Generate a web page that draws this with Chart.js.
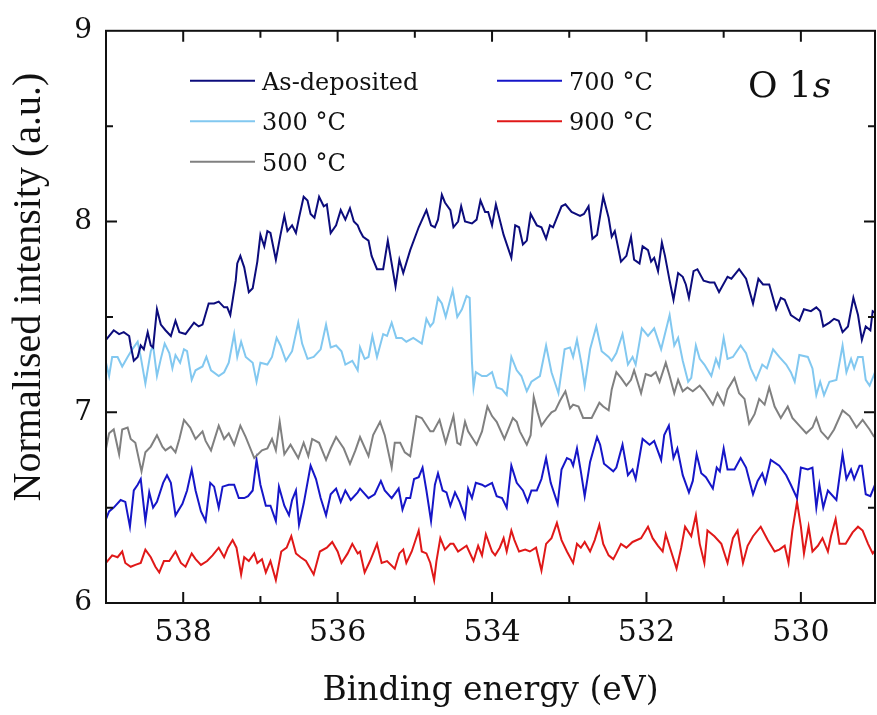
<!DOCTYPE html>
<html>
<head>
<meta charset="utf-8">
<title>O 1s XPS</title>
<script src="https://cdn.jsdelivr.net/npm/chart.js@4.4.1/dist/chart.umd.min.js"></script>
<style>
  html, body { margin: 0; padding: 0; background: #ffffff; }
  #wrap { width: 877px; height: 715px; }
</style>
</head>
<body>
<div id="wrap"><canvas id="xpsChart" width="877" height="715"></canvas></div>
<script>
// Series names and colours
const seriesNames = ['As-deposited', '300 °C', '500 °C', '700 °C', '900 °C'];
const seriesColors = ['#0c0c7c', '#82c8f0', '#808080', '#1616c8', '#e01818'];

// Axis ticks
const xTickLabels = [538, 536, 534, 532, 530];
const xMinorTicks = [537, 535, 533, 531, 529];
const yTickLabels = [6, 7, 8, 9];
const yMinorTicks = [6.5, 7.5, 8.5];

// As-deposited
const asDepE = [539.00,538.90,538.83,538.77,538.70,538.68,538.64,538.59,538.55,538.51,538.46,538.42,538.39,538.34,538.29,538.23,538.16,538.10,538.05,537.97,537.86,537.80,537.75,537.67,537.60,537.54,537.47,537.43,537.39,537.32,537.30,537.26,537.21,537.15,537.10,537.04,537.00,536.95,536.91,536.87,536.80,536.74,536.69,536.65,536.59,536.54,536.50,536.44,536.39,536.35,536.30,536.24,536.18,536.14,536.09,536.02,535.96,535.90,535.84,535.79,535.74,
  535.71,535.67,535.60,535.56,535.49,535.41,535.35,535.30,535.25,535.20,535.15,535.06,534.95,534.85,534.79,534.74,534.70,534.65,534.61,534.54,534.50,534.44,534.40,534.35,534.26,534.20,534.15,534.09,534.05,534.00,533.95,533.85,533.75,533.70,533.65,533.60,533.55,533.50,533.42,533.36,533.30,533.25,533.21,533.10,533.05,532.97,532.86,532.81,532.75,532.70,532.64,532.56,532.49,532.45,532.41,
  532.33,532.26,532.20,532.16,532.09,532.05,531.98,531.94,531.90,531.85,531.80,531.76,531.70,531.65,531.59,531.53,531.49,531.45,531.39,531.34,531.26,531.18,531.12,531.06,530.95,530.90,530.80,530.71,530.62,530.55,530.49,530.41,530.32,530.26,530.21,530.13,530.02,529.96,529.87,529.80,529.75,529.71,529.63,529.57,529.51,529.46,529.39,529.32,529.26,529.21,529.16,529.10,529.07,529.03];
const asDepI = [7.38,7.43,7.41,7.42,7.40,7.35,7.27,7.29,7.35,7.33,7.42,7.35,7.34,7.54,7.46,7.43,7.40,7.48,7.42,7.41,7.47,7.45,7.46,7.57,7.57,7.58,7.55,7.55,7.51,7.69,7.78,7.82,7.76,7.63,7.65,7.79,7.93,7.87,7.95,7.94,7.80,7.93,8.03,7.95,7.98,7.94,8.02,8.13,8.11,8.04,8.02,8.13,8.08,8.09,7.94,7.98,8.06,8.01,8.07,8.00,7.98,
  7.95,7.92,7.90,7.82,7.75,7.75,7.90,7.78,7.66,7.80,7.73,7.85,7.97,8.06,7.98,7.97,8.01,8.14,8.10,8.06,7.97,8.00,8.08,8.00,7.99,8.01,8.11,8.05,8.05,7.98,8.09,7.93,7.81,7.98,7.97,7.88,7.90,8.04,7.98,7.97,7.91,7.98,7.97,8.08,8.09,8.05,8.03,8.04,8.08,7.91,7.93,8.13,8.02,7.92,7.95,
  7.79,7.82,7.92,7.80,7.78,7.87,7.85,7.79,7.81,7.74,7.89,7.82,7.69,7.59,7.73,7.71,7.67,7.60,7.74,7.75,7.69,7.68,7.68,7.63,7.71,7.70,7.75,7.70,7.57,7.70,7.67,7.67,7.54,7.60,7.59,7.51,7.48,7.54,7.53,7.55,7.53,7.45,7.47,7.49,7.48,7.42,7.45,7.60,7.51,7.38,7.45,7.43,7.53,7.52];

// 300 °C
const t300E = [539.00,538.96,538.92,538.85,538.79,538.72,538.66,538.59,538.55,538.49,538.42,538.39,538.34,538.29,538.24,538.18,538.14,538.10,538.04,537.99,537.95,537.89,537.84,537.75,537.70,537.64,537.54,537.47,537.41,537.34,537.30,537.25,537.19,537.10,537.05,537.00,536.91,536.85,536.79,536.74,536.67,536.59,536.51,536.46,536.39,536.31,536.22,536.15,536.09,536.02,535.95,535.90,535.81,535.74,
  535.71,535.65,535.60,535.55,535.49,535.41,535.36,535.30,535.24,535.17,535.11,535.02,534.91,534.85,534.80,534.76,534.70,534.65,534.60,534.51,534.45,534.39,534.33,534.29,534.26,534.24,534.21,534.13,534.07,534.00,533.94,533.87,533.81,533.75,533.68,533.62,533.55,533.49,533.38,533.30,533.23,533.14,533.06,532.99,532.95,532.90,532.84,532.80,532.73,532.65,532.58,532.49,532.45,532.39,
  532.31,532.24,532.18,532.14,532.06,531.98,531.90,531.81,531.70,531.64,531.59,531.53,531.46,531.42,531.36,531.31,531.25,531.16,531.10,531.06,531.00,530.95,530.88,530.78,530.71,530.65,530.58,530.50,530.44,530.36,530.28,530.19,530.13,530.08,530.02,529.91,529.85,529.80,529.75,529.70,529.63,529.54,529.46,529.41,529.35,529.31,529.26,529.20,529.16,529.11,529.06,529.03];
const t300I = [7.26,7.19,7.29,7.29,7.24,7.29,7.33,7.37,7.29,7.15,7.32,7.35,7.19,7.28,7.36,7.31,7.23,7.30,7.26,7.33,7.32,7.17,7.22,7.24,7.29,7.22,7.19,7.21,7.26,7.41,7.29,7.37,7.29,7.26,7.16,7.26,7.25,7.29,7.39,7.35,7.27,7.32,7.47,7.36,7.28,7.29,7.33,7.46,7.34,7.35,7.32,7.25,7.27,7.22,
  7.34,7.28,7.29,7.40,7.29,7.41,7.40,7.47,7.39,7.39,7.37,7.39,7.36,7.49,7.45,7.47,7.60,7.57,7.50,7.64,7.50,7.54,7.61,7.60,7.26,7.13,7.21,7.19,7.19,7.21,7.13,7.12,7.09,7.29,7.22,7.19,7.11,7.16,7.19,7.35,7.21,7.10,7.33,7.34,7.29,7.38,7.25,7.14,7.33,7.45,7.32,7.29,7.27,7.31,
  7.41,7.25,7.29,7.25,7.44,7.40,7.44,7.33,7.51,7.35,7.39,7.27,7.16,7.18,7.35,7.28,7.25,7.19,7.28,7.24,7.39,7.28,7.29,7.35,7.31,7.23,7.17,7.25,7.23,7.33,7.29,7.25,7.21,7.16,7.30,7.29,7.23,7.09,7.16,7.09,7.16,7.17,7.35,7.21,7.28,7.23,7.29,7.29,7.17,7.14,7.19,7.22];

// 500 °C
const t500E = [539.00,538.96,538.90,538.83,538.79,538.72,538.68,538.62,538.54,538.49,538.42,538.34,538.27,538.23,538.16,538.10,538.05,537.99,537.91,537.84,537.75,537.71,537.64,537.54,537.47,537.41,537.34,537.26,537.19,537.08,536.98,536.91,536.85,536.80,536.75,536.69,536.61,536.51,536.44,536.38,536.33,536.24,536.15,536.09,536.02,535.92,535.84,535.77,
  535.71,535.60,535.54,535.45,535.39,535.30,535.26,535.19,535.13,535.06,534.98,534.91,534.80,534.76,534.68,534.60,534.50,534.45,534.41,534.35,534.31,534.20,534.13,534.06,534.00,533.94,533.84,533.79,533.73,533.68,533.64,533.55,533.50,533.46,533.41,533.36,533.29,533.23,533.18,533.12,533.05,532.99,532.95,532.88,532.82,532.75,532.71,532.61,532.56,532.49,532.45,532.39,
  532.33,532.26,532.20,532.16,532.07,532.01,531.94,531.88,531.83,531.75,531.70,531.64,531.59,531.53,531.47,531.40,531.31,531.25,531.14,531.08,531.00,530.95,530.86,530.80,530.73,530.67,530.60,530.54,530.47,530.41,530.34,530.26,530.17,530.11,530.02,529.93,529.85,529.80,529.74,529.65,529.57,529.46,529.37,529.28,529.20,529.11,529.05];
const t500I = [6.81,6.89,6.91,6.78,6.91,6.92,6.86,6.84,6.69,6.79,6.82,6.88,6.82,6.80,6.82,6.79,6.86,6.96,6.92,6.86,6.90,6.85,6.80,6.93,6.86,6.89,6.83,6.93,6.87,6.76,6.80,6.81,6.86,6.80,6.95,6.78,6.83,6.76,6.84,6.77,6.86,6.84,6.75,6.81,6.87,6.81,6.73,6.80,
  6.87,6.77,6.88,6.95,6.88,6.71,6.84,6.84,6.79,6.77,6.98,6.97,6.90,6.90,6.96,6.84,6.98,6.84,6.83,6.95,6.90,6.83,6.90,7.03,6.98,6.95,6.86,6.91,6.97,6.95,6.90,6.83,6.88,7.08,7.00,6.93,6.97,7.00,7.01,7.06,7.11,7.02,7.04,7.03,6.97,6.97,6.97,7.05,7.03,7.01,7.12,7.21,
  7.18,7.14,7.17,7.22,7.10,7.20,7.19,7.21,7.16,7.26,7.19,7.10,7.17,7.11,7.13,7.11,7.14,7.11,7.04,7.10,7.04,7.12,7.18,7.10,7.07,6.94,6.99,7.07,7.04,7.13,7.03,6.97,7.03,6.97,6.93,6.89,6.92,6.97,6.90,6.86,6.91,7.01,6.98,6.92,6.96,6.91,6.87];

// 700 °C
const t700E = [539.00,538.96,538.90,538.81,538.75,538.69,538.64,538.59,538.55,538.49,538.44,538.39,538.34,538.26,538.21,538.16,538.10,538.01,537.95,537.89,537.84,537.77,537.71,537.65,537.60,537.54,537.49,537.41,537.34,537.28,537.21,537.16,537.10,537.05,537.00,536.93,536.87,536.80,536.76,536.69,536.63,536.59,536.54,536.50,536.44,536.35,536.28,536.22,536.15,536.09,536.02,535.96,535.90,535.83,535.74,
  535.71,535.60,535.52,535.44,535.39,535.30,535.21,535.16,535.11,535.06,535.01,534.95,534.90,534.85,534.79,534.74,534.70,534.64,534.59,534.54,534.48,534.42,534.35,534.31,534.26,534.21,534.13,534.09,534.00,533.94,533.87,533.81,533.75,533.68,533.60,533.54,533.49,533.42,533.36,533.30,533.24,533.15,533.10,533.03,532.98,532.95,532.90,532.85,532.80,532.73,532.64,532.60,532.55,532.49,532.43,532.39,
  532.31,532.24,532.18,532.14,532.05,531.96,531.90,531.81,531.77,531.71,531.65,531.60,531.53,531.45,531.40,531.35,531.29,531.23,531.14,531.09,531.05,531.00,530.95,530.86,530.78,530.71,530.62,530.56,530.50,530.46,530.39,530.28,530.19,530.13,530.05,530.00,529.91,529.85,529.80,529.76,529.71,529.65,529.54,529.46,529.41,529.35,529.31,529.24,529.21,529.16,529.10,529.03];
const t700I = [6.44,6.48,6.50,6.54,6.53,6.40,6.59,6.62,6.65,6.43,6.58,6.50,6.53,6.63,6.67,6.63,6.46,6.52,6.59,6.70,6.59,6.48,6.43,6.63,6.61,6.50,6.61,6.62,6.62,6.55,6.55,6.56,6.59,6.75,6.62,6.51,6.51,6.43,6.61,6.51,6.46,6.54,6.59,6.41,6.52,6.72,6.65,6.55,6.46,6.57,6.60,6.53,6.59,6.54,6.58,
  6.60,6.55,6.57,6.64,6.59,6.55,6.60,6.49,6.55,6.55,6.65,6.66,6.71,6.59,6.43,6.62,6.68,6.59,6.58,6.51,6.58,6.53,6.45,6.60,6.55,6.63,6.62,6.61,6.63,6.56,6.55,6.50,6.72,6.63,6.59,6.53,6.59,6.59,6.65,6.76,6.63,6.52,6.70,6.76,6.75,6.72,6.81,6.69,6.56,6.74,6.87,6.83,6.73,6.71,6.69,6.71,
  6.83,6.67,6.70,6.65,6.86,6.83,6.85,6.75,6.88,6.93,6.76,6.81,6.67,6.58,6.64,6.78,6.68,6.66,6.60,6.71,6.69,6.81,6.70,6.70,6.76,6.71,6.57,6.64,6.68,6.63,6.75,6.72,6.67,6.62,6.55,6.71,6.70,6.71,6.50,6.62,6.50,6.59,6.54,6.78,6.65,6.70,6.65,6.72,6.72,6.57,6.56,6.63];

// 900 °C
const t900E = [539.00,538.92,538.85,538.79,538.75,538.68,538.62,538.55,538.49,538.42,538.36,538.31,538.25,538.18,538.10,538.03,537.97,537.89,537.84,537.77,537.69,537.62,537.54,537.47,537.42,537.36,537.31,537.25,537.21,537.15,537.08,537.04,536.98,536.93,536.87,536.80,536.73,536.66,536.60,536.54,536.48,536.41,536.31,536.23,536.14,536.07,536.00,535.95,535.87,535.81,535.74,
  535.71,535.65,535.58,535.49,535.43,535.36,535.26,535.20,535.15,535.11,535.04,534.95,534.91,534.85,534.80,534.75,534.72,534.67,534.61,534.54,534.50,534.44,534.33,534.24,534.18,534.13,534.08,534.00,533.96,533.90,533.85,533.81,533.75,533.71,533.65,533.57,533.51,533.43,533.36,533.30,533.23,533.16,533.10,533.03,532.95,532.90,532.85,532.80,532.73,532.67,532.61,532.56,532.49,532.43,532.39,
  532.33,532.26,532.18,532.07,531.98,531.92,531.85,531.79,531.75,531.68,531.61,531.55,531.50,531.42,531.36,531.31,531.25,531.21,531.12,531.03,530.95,530.88,530.82,530.75,530.69,530.62,530.52,530.43,530.34,530.28,530.21,530.16,530.11,530.05,530.00,529.96,529.90,529.85,529.78,529.72,529.65,529.61,529.55,529.50,529.42,529.33,529.26,529.20,529.13,529.07,529.03];
const t900I = [6.21,6.25,6.24,6.27,6.21,6.19,6.20,6.21,6.28,6.24,6.19,6.16,6.22,6.22,6.27,6.21,6.19,6.26,6.23,6.20,6.22,6.25,6.29,6.24,6.29,6.33,6.29,6.15,6.24,6.22,6.26,6.21,6.23,6.16,6.22,6.12,6.27,6.29,6.35,6.26,6.24,6.22,6.15,6.27,6.29,6.32,6.27,6.21,6.26,6.31,6.26,
  6.27,6.16,6.22,6.31,6.21,6.22,6.18,6.26,6.28,6.21,6.27,6.38,6.27,6.26,6.21,6.12,6.22,6.34,6.28,6.31,6.31,6.27,6.30,6.22,6.30,6.25,6.36,6.27,6.25,6.29,6.34,6.27,6.38,6.33,6.27,6.28,6.27,6.29,6.17,6.31,6.34,6.42,6.33,6.27,6.21,6.31,6.29,6.32,6.27,6.33,6.41,6.31,6.25,6.23,6.26,
  6.31,6.29,6.32,6.34,6.40,6.34,6.30,6.27,6.36,6.27,6.18,6.29,6.40,6.35,6.46,6.31,6.21,6.38,6.35,6.31,6.21,6.34,6.38,6.21,6.30,6.35,6.40,6.33,6.27,6.28,6.30,6.21,6.38,6.53,6.40,6.26,6.40,6.27,6.30,6.34,6.27,6.35,6.44,6.31,6.31,6.37,6.40,6.38,6.31,6.26,6.28];

const energies = [asDepE, t300E, t500E, t700E, t900E];
const intensities = [asDepI, t300I, t500I, t700I, t900I];

function toPoints(xs, ys) {
    return xs.map((x, i) => ({ x: x, y: ys[i] }));
}

const serif = 'DejaVu Serif';

// Frame with inward ticks on all four sides
const framePlugin = {
    id: 'frame',
    afterDatasetsDraw(chart) {
        const { ctx, chartArea: a, scales } = chart;
        ctx.save();
        ctx.strokeStyle = '#111';
        ctx.lineWidth = 2;
        ctx.strokeRect(a.left, a.top, a.right - a.left, a.bottom - a.top);
        const xTick = (v, len) => {
            const px = scales.x.getPixelForValue(v);
            if (px <= a.left + 1 || px >= a.right - 1) return;
            ctx.beginPath();
            ctx.moveTo(px, a.bottom); ctx.lineTo(px, a.bottom - len);
            ctx.moveTo(px, a.top); ctx.lineTo(px, a.top + len);
            ctx.stroke();
        };
        const yTick = (v, len) => {
            const py = scales.y.getPixelForValue(v);
            if (py <= a.top + 1 || py >= a.bottom - 1) return;
            ctx.beginPath();
            ctx.moveTo(a.left, py); ctx.lineTo(a.left + len, py);
            ctx.moveTo(a.right, py); ctx.lineTo(a.right - len, py);
            ctx.stroke();
        };
        xTickLabels.forEach(v => xTick(v, 11));
        xMinorTicks.forEach(v => xTick(v, 7));
        yTickLabels.forEach(v => yTick(v, 11));
        yMinorTicks.forEach(v => yTick(v, 7));
        ctx.restore();
    }
};

// Legend in two columns, the O 1s label and the y title
const legendPlugin = {
    id: 'legendBox',
    afterDraw(chart) {
        const { ctx, chartArea: a } = chart;
        ctx.save();
        ctx.font = '24px "' + serif + '"';
        ctx.textBaseline = 'alphabetic';
        ctx.fillStyle = '#111';
        seriesNames.forEach((name, i) => {
            const col = i < 3 ? 0 : 1;
            const row = i < 3 ? i : i - 3;
            const x0 = a.left + (col === 0 ? 84 : 391);
            const y0 = a.top + 50 + row * 40.5;
            ctx.strokeStyle = seriesColors[i];
            ctx.lineWidth = 2;
            ctx.beginPath();
            ctx.moveTo(x0, y0);
            ctx.lineTo(x0 + 65, y0);
            ctx.stroke();
            ctx.fillText(name, x0 + 72, y0 + 9);
        });
        // O 1s
        ctx.font = '36px "' + serif + '"';
        const base = 'O 1';
        const bx = a.left + 642;
        const by = a.top + 66;
        ctx.fillText(base, bx, by);
        const w = ctx.measureText(base).width;
        ctx.font = 'italic 36px "' + serif + '"';
        ctx.fillText('s', bx + w + 1, by);

        // y axis title, sits a bit above the middle of the axis
        ctx.translate(29, 287);
        ctx.rotate(-Math.PI / 2);
        ctx.font = '40px "Liberation Serif"';
        ctx.textAlign = 'center';
        ctx.textBaseline = 'middle';
        ctx.fillText('Normalised intensity (a.u.)', 0, 0);
        ctx.restore();
    }
};

const ctx = document.getElementById('xpsChart');
new Chart(ctx.getContext('2d'), {
    type: 'line',
    data: {
        datasets: seriesNames.map((name, i) => ({
            label: name,
            data: toPoints(energies[i], intensities[i]),
            borderColor: seriesColors[i],
            borderWidth: 2,
            pointRadius: 0,
            tension: 0,
            fill: false
        }))
    },
    options: {
        responsive: false,
        animation: false,
        layout: { padding: { top: 24, right: 2, left: 0, bottom: 0 } },
        plugins: {
            legend: { display: false },
            tooltip: { enabled: false }
        },
        scales: {
            x: {
                type: 'linear',
                reverse: true,
                min: 529.04,
                max: 539,
                afterBuildTicks: s => { s.ticks = xTickLabels.map(v => ({ value: v })); },
                afterFit: s => { s.height = 112; },
                grid: { display: false, drawTicks: false },
                border: { display: false },
                ticks: {
                    padding: 12,
                    color: '#111',
                    autoSkip: false,
                    maxRotation: 0,
                    font: { family: serif, size: 30 }
                },
                title: {
                    display: true,
                    text: 'Binding energy (eV)',
                    color: '#111',
                    padding: { top: 0, bottom: 4 },
                    font: { family: serif, size: 33 }
                }
            },
            y: {
                min: 6,
                max: 9,
                afterBuildTicks: s => { s.ticks = yTickLabels.map(v => ({ value: v })); },
                afterFit: s => { s.width = 106; },
                grid: { display: false, drawTicks: false },
                border: { display: false },
                ticks: {
                    padding: 14,
                    color: '#111',
                    font: { family: serif, size: 28 }
                }
            }
        }
    },
    plugins: [framePlugin, legendPlugin]
});
</script>
</body>
</html>
